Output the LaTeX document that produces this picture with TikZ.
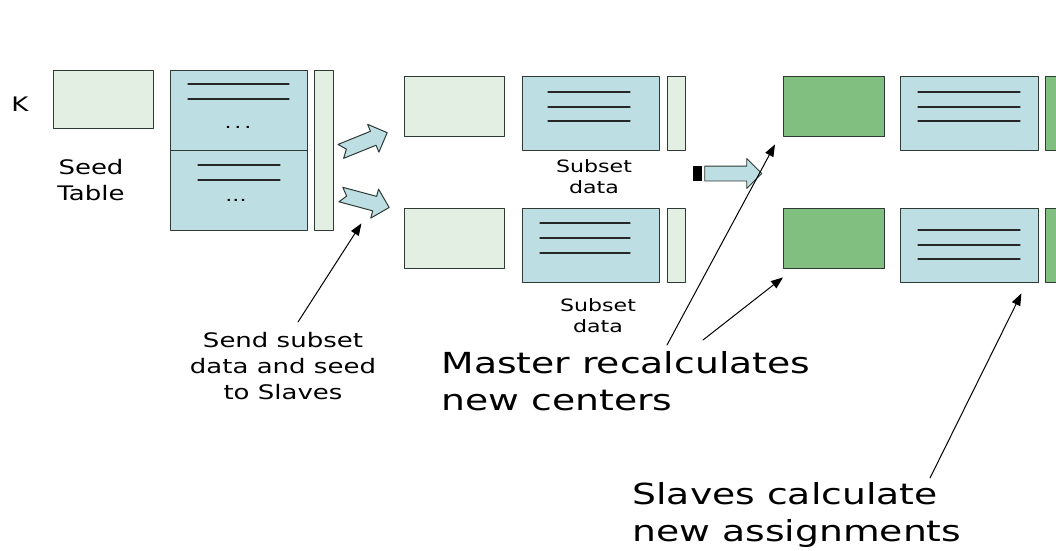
\documentclass[tikz,border=0pt]{standalone}
\usepackage{fontspec}
\setmainfont[FakeStretch=1.3]{DejaVu Sans}
\usetikzlibrary{arrows.meta,shapes.arrows,calc}
\definecolor{paleg}{HTML}{E4EFE3}
\definecolor{paleb}{HTML}{BDDFE3}
\definecolor{midg}{HTML}{80BF80}
\definecolor{edge}{HTML}{2E3A34}
\tikzset{
  cell/.style={draw=edge,line width=1.4pt,inner sep=0pt,anchor=north west},
  seedcell/.style={cell,fill=paleg},
  datacell/.style={cell,fill=paleb},
  centcell/.style={cell,fill=midg},
  row/.style={line width=1.2pt,draw=black!85},
  fat/.style={single arrow,draw=edge,fill=paleb,line width=0.9pt,inner xsep=0pt,
    inner ysep=7pt,single arrow head extend=7.5pt},
  notched/.style={draw=edge,fill=paleb,line width=1pt},
  ptr/.style={line width=1pt,-{Triangle[length=12pt,width=9pt]}},
  small/.style={font=\fontsize{17}{21}\selectfont,align=center},
  mid/.style={font=\fontsize{20}{26}\selectfont,align=center},
  big/.style={font=\fontsize{29}{37}\selectfont,align=left},
}
\newcommand\notcharrow[2]{% position, angle
  \draw[notched,shift={#1},rotate=#2]
    (-25,-7.5) -- (10,-7.5) -- (10,-15) -- (25,0) -- (10,15) -- (10,7.5)
    -- (-25,7.5) -- (-19,0) -- cycle;}
\begin{document}
\begin{tikzpicture}[x=1pt,y=-1pt,line cap=round,line join=round]
  \useasboundingbox (0,0) rectangle (1056,550);
  \clip (0,0) rectangle (1056,550);
  % seed table
  \node[mid] (k) at (20,104) {K};
  \node[seedcell,minimum width=100pt,minimum height=58pt] (seed) at (53,70) {};
  \node[mid] (seedlbl) at (91,180) {Seed\\Table};
  \node[datacell,minimum width=137pt,minimum height=80pt] (tabA) at (170,70) {};
  \node[datacell,minimum width=137pt,minimum height=80pt] (tabB) at (170,150) {};
  \node[seedcell,minimum width=19pt,minimum height=160pt] (bar) at (314,70) {};
  \foreach \y in {84,99} \draw[row] (188,\y) -- (289,\y);
  \foreach \y in {165,180} \draw[row] (198,\y) -- (280,\y);
  \node[small] at (238,127) {.\,.\,.};
  \node[small] at (236,200) {...};
  % fan-out arrows
  \notcharrow{(364,142)}{22}
  \notcharrow{(365,201)}{-15}
  % slaves
  \foreach \n/\y in {up/76,dn/208}{
    \node[seedcell,minimum width=100pt,minimum height=60pt] (s\n) at (404,\y) {};
    \node[datacell,minimum width=137pt,minimum height=74pt] (d\n) at (522,\y) {};
    \node[seedcell,minimum width=18pt,minimum height=74pt] (b\n) at (667,\y) {};
  }
  \foreach \y in {92,107,121} \draw[row] (548,\y) -- (630,\y);
  \foreach \y in {223,238,253} \draw[row] (540,\y) -- (630,\y);
  \node[small] (subA) at (594,177) {Subset\\data};
  \node[small] (subB) at (598,316) {Subset\\data};
  % gather arrow
  \fill[black] (693,166) rectangle (702,181);
  \node[fat,minimum height=57pt] (gather) at (729.5,173.5) {};
  % master
  \foreach \n/\y in {up/76,dn/208}{
    \node[centcell,minimum width=101pt,minimum height=60pt] (c\n) at (783,\y) {};
    \node[datacell,minimum width=138pt,minimum height=74pt] (e\n) at (900,\y) {};
    \node[centcell,minimum width=30pt,minimum height=74pt] (f\n) at (1045,\y) {};
  }
  \foreach \y in {92,107,121} \draw[row] (918,\y) -- (1020,\y);
  \foreach \y in {230,245,259} \draw[row] (918,\y) -- (1020,\y);
  % notes
  \node[mid] (send) at (283,366) {Send subset\\data and seed\\to Slaves};
  \node[big,anchor=north west] (master) at (438,348) {Master recalculates\\new centers};
  \node[big,anchor=north west] (slaves) at (629,479) {Slaves calculate\\new assignments};
  \coordinate (sendtail) at (298,322);
  \coordinate (mtailA) at (667,345);
  \coordinate (mtailB) at (703,340);
  \coordinate (stail) at (930,478);
  \draw[ptr] (sendtail) -- ($(bar.south east)+(27,-8)$);
  \draw[ptr] (mtailA) -- ($(cup.south west)+(-8,7)$);
  \draw[ptr] (mtailB) -- ($(cdn.south west)+(0,8)$);
  \draw[ptr] (stail) -- ($(edn.south east)+(-18,10)$);
\end{tikzpicture}
\end{document}
